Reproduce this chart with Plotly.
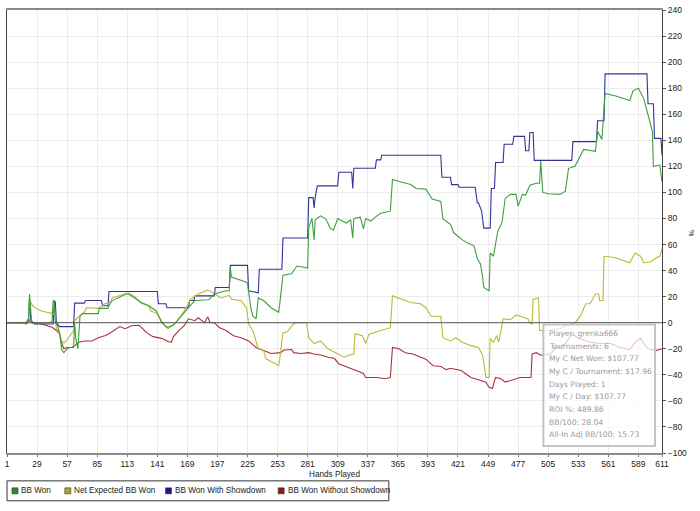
import plotly.graph_objects as go

# ---------------- data (hand number, value) ----------------
x_ticks = [1, 29, 57, 85, 113, 141, 169, 197, 225, 253, 281, 309, 337, 365, 393,
           421, 449, 477, 505, 533, 561, 589, 611]
y_ticks = list(range(-100, 241, 20))

series_names = ["BB Won", "Net Expected BB Won", "BB Won With Showdown", "BB Won Without Showdown"]

bb_won_x = [1, 15, 19, 21, 22, 23, 24, 27, 40, 43, 44, 45, 46, 48, 50, 52, 54, 57, 59, 62, 63, 64, 65, 67,
            69, 71, 86, 87, 95, 96, 99, 112, 114, 120, 126, 133, 140, 145, 150, 156, 161, 170, 176, 189, 194,
            205, 208, 209, 210, 224, 225, 226, 228, 230, 233, 235, 240, 247, 254, 255, 258, 266, 271, 281,
            282, 285, 287, 288, 293, 298, 302, 305, 309, 317, 321, 323, 324, 330, 333, 335, 340, 344, 349,
            358, 360, 368, 377, 382, 391, 397, 405, 407, 414, 417, 426, 433, 436, 439, 442, 444, 445, 450,
            451, 454, 458, 462, 465, 470, 475, 477, 481, 484, 488, 494, 497, 498, 500, 505, 516, 521, 524,
            530, 535, 538, 549, 551, 555, 558, 568, 581, 584, 589, 594, 596, 602, 603, 609, 611]
bb_won_y = [0, 0, -1, 2, 22, 10, 0, -1, 0, 1, 17, 17, 0, -2, -8, -21, -23, -20, -19, -19, -19, 0, -12, -20,
            5, 7, 7, 11, 11, 13, 17, 22, 22, 19, 15.5, 13, 9, 0, -3.5, -2, 3, 11.5, 17, 17.6, 22,
            24.5, 24.5, 42, 35, 31, 30, 23, 11.5, 5, 3, 19, 17, 11.5, 8, 14.5, 36.5, 37.5, 43.5, 42,
            73, 80, 63.5, 79, 82, 79.5, 72.6, 71, 80, 76.5, 79, 65, 80, 81, 72, 80, 78, 81, 84,
            85.6, 110, 108, 106, 103, 102.5, 95, 93, 79.6, 75.5, 69, 63, 60, 59, 49, 45, 35, 27, 24.5,
            53.5, 51, 70, 77, 95.5, 98.5, 98.5, 89.5, 98.5, 98, 105.5, 107, 107, 124, 100, 99, 98.5, 101,
            118.5, 120, 127.7, 133, 131.5, 147, 140.7, 176, 174, 170.5, 178, 180, 172, 166, 147, 120, 121, 108]

net_exp_x = [1, 21, 22, 24, 27, 33, 38, 44, 46, 47, 49, 52, 54, 57, 63, 64, 67, 73, 75, 86, 92, 96, 99,
             112, 114, 120, 126, 133, 135, 141, 145, 148, 151, 158, 166, 172, 179, 188, 193, 200, 208, 210,
             219, 224, 226, 230, 235, 240, 242, 249, 254, 255, 258, 262, 268, 272, 280, 282, 287, 293, 300,
             307, 315, 321, 324, 325, 332, 335, 338, 349, 358, 360, 368, 377, 386, 391, 396, 405, 407, 414,
             419, 425, 433, 440, 444, 447, 450, 451, 454, 457, 459, 463, 470, 475, 479, 486, 489, 490, 491,
             496, 497, 507, 516, 521, 530, 535, 540, 544, 549, 552, 553, 556, 557, 567, 581, 586, 591, 594,
             600, 606, 609, 611]
net_exp_y = [0, 0, 18, 14, 11.5, 9, 8, 7, 5, -4.6, -6, -14, -15.5, -13, -6, 1.5, 4, 8, 11.5, 11, 14.5, 15, 19,
             22, 23, 20, 15, 13, 9, 7, 2, -2.5, -4.6, 0, 9, 18, 22, 25, 23, 19, 21, 18,
             17, 11.5, -1, -6, -20, -21.4, -27.5, -30.5, -33, -28, -7.6, -7, -0.7, 0, 0, -11.5, -16, -14, -20,
             -23, -26.5, -24.5, -24, -8.5, -10, -16, -9, -6, -4, 20.6, 18, 15.5, 14.5, 11.5, 5, 5, -11.5, -14,
             -11.5, -15, -17.6, -19, -25, -42, -42, -12, -15, -10, -15, 3, 2.3, 6, 5, 3, -1, -1, 18,
             19, -6, -5.6, -4.6, -2.3, 0, 5, 14.5, 14.5, 22, 22, 17, 17, 51, 50, 46, 53.5, 51, 46,
             46.6, 50, 51, 56.6]

with_sd_x = [1, 19, 21, 22, 23, 25, 27, 44, 45, 46, 47, 50, 63, 64, 73, 74, 89, 90, 95, 96, 141, 142, 149,
             150, 170, 171, 175, 176, 194, 195, 208, 209, 225, 226, 235, 236, 257, 258, 281, 282, 286, 287,
             288, 290, 309, 310, 322, 323, 324, 344, 345, 349, 350, 405, 406, 414, 415, 421, 422, 437, 439,
             440, 443, 445, 451, 452, 455, 456, 463, 464, 472, 473, 483, 484, 487, 488, 491, 492, 527, 528,
             550, 551, 557, 558, 597, 598, 603, 604, 610, 611]
with_sd_y = [0, 0, 3, 18, 3, 0, -1, -1, 16, 16, 0, -3, -3, 15, 15, 17, 17, 13, 13, 24, 24, 14.5, 14.5,
             11.5, 11.5, 17, 17, 20.6, 20.6, 27, 27, 44, 44, 24.5, 23, 41, 41, 65, 65, 96, 96, 88,
             96, 105, 105, 115.5, 115.5, 103, 118.5, 118.5, 125, 125, 128.5, 128.5, 111.6, 111.6, 106, 106, 104, 104, 92,
             92, 85.6, 72.6, 72.6, 103, 103, 123, 123, 137, 137, 143, 143, 132, 132, 146, 146, 124.6, 124.6, 139,
             139, 155, 155, 191, 191, 168, 168, 141.5, 141.5, 129]

without_sd_x = [1, 20, 22, 24, 29, 38, 43, 47, 50, 52, 54, 57, 61, 64, 68, 73, 80, 86, 92, 96, 101, 106, 111,
                117, 124, 126, 131, 137, 145, 151, 154, 156, 161, 166, 170, 176, 179, 185, 188, 190, 194, 199,
                205, 212, 219, 226, 233, 240, 247, 256, 259, 266, 268, 275, 282, 287, 294, 300, 306, 310, 317,
                323, 326, 333, 335, 345, 354, 358, 360, 366, 372, 379, 386, 391, 398, 405, 410, 414, 424, 428,
                433, 437, 442, 447, 450, 453, 456, 461, 465, 470, 475, 479, 489, 490, 494, 498, 507, 512, 516,
                521, 526, 528, 532, 540, 544, 554, 563, 572, 581, 586, 591, 594, 598, 605, 611]
without_sd_y = [0, 0, 2, 0, 0, -2, -3.5, -6, -8.4, -16, -20, -19, -19, -17.6, -15, -14, -14, -11.5, -10, -8.4, -6, -3, -4.6,
                -2.3, -2, -3.8, -7.6, -10.7, -12, -14.5, -15, -10.7, -6, -2.3, 3, 1.5, 3.8, 0, 4.6, 0, 0, -3.8,
                -6, -10, -11.5, -14, -19, -21.4, -23.6, -23, -21, -20.6, -23, -23.6, -23, -24, -25, -26.5, -27.5, -31.6, -33.6,
                -35.4, -36.7, -39, -42, -42, -43, -42, -19, -20, -23, -24, -26.5, -28, -33, -33.6, -36, -35, -36.7, -39,
                -42, -43, -44.4, -45.6, -49.6, -50.5, -42, -43, -45.6, -44.4, -43, -42, -42, -24, -23, -25, -24, -19, -18.4,
                -16, -10, -8.5, -11.5, -14, -15, -16, -16, -19, -20.6, -15, -12, -16, -20, -21.4, -20]

stats_lines = ["Player: grenka666", "Tournaments: 6", "My C Net Won: $107.77",
               "My C / Tournament: $17.96", "Days Played: 1", "My C / Day: $107.77",
               "ROI %: 489.86", "BB/100: 28.04", "All-In Adj BB/100: 15.73"]

# ---------------- styling ----------------
W, H = 700, 511
ML, MR, MT, MB = 5, 38, 8, 58
line_colors = ["#3f9f3f", "#b9b93a", "#33339a", "#a8323c"]
legend_colors = ["#2b8a2b", "#a6a62e", "#1a1a85", "#8c1c1c"]
FONT = "Liberation Sans, Arial, sans-serif"


def px(x):
    return (x - ML) / (W - ML - MR)


def py(y):
    return (H - MB - y) / (H - MT - MB)


fig = go.Figure()
data = [(bb_won_x, bb_won_y), (net_exp_x, net_exp_y), (with_sd_x, with_sd_y), (without_sd_x, without_sd_y)]
for idx in [2, 3, 1, 0]:
    xs, ys = data[idx]
    fig.add_trace(go.Scatter(x=xs, y=ys, mode="lines", name=series_names[idx],
                             line=dict(color=line_colors[idx], width=1.1), showlegend=False,
                             hoverinfo="skip"))

shapes = []
annotations = []

# zero line
shapes.append(dict(type="line", xref="paper", yref="y", x0=0, x1=1, y0=0, y1=0,
                   line=dict(color="#555555", width=1), layer="above"))

# stats box
shapes.append(dict(type="rect", xref="paper", yref="paper", x0=px(543), x1=px(655), y0=py(446), y1=py(324),
                   fillcolor="rgba(255,255,255,0.72)", line=dict(color="#c4c4c4", width=2), layer="above"))
for i, t in enumerate(stats_lines):
    annotations.append(dict(text=t, xref="paper", yref="paper", x=px(547), y=py(333 + i * 12.7),
                            xanchor="left", yanchor="middle", showarrow=False,
                            font=dict(family="DejaVu Sans, sans-serif", size=7.6, color="#9a9a9a")))

# legend box (drawn manually)
shapes.append(dict(type="rect", xref="paper", yref="paper", x0=px(5), x1=px(388), y0=py(501), y1=py(481),
                   fillcolor="white", line=dict(color="#333333", width=1)))
leg_sq_x = [10, 63, 164, 277]
for i, sx in enumerate(leg_sq_x):
    shapes.append(dict(type="rect", xref="paper", yref="paper", x0=px(sx), x1=px(sx + 6),
                       y0=py(494), y1=py(488), fillcolor=legend_colors[i],
                       line=dict(color="#333333", width=0.6)))
    annotations.append(dict(text=series_names[i], xref="paper", yref="paper", x=px(sx + 7.5), y=py(491),
                            xanchor="left", yanchor="middle", showarrow=False,
                            font=dict(family=FONT, size=8.2, color="#222222")))

# axis titles
annotations.append(dict(text="Hands Played", xref="paper", yref="paper", x=px(333), y=py(474.5),
                        xanchor="center", yanchor="middle", showarrow=False,
                        font=dict(family=FONT, size=8.2, color="#222222")))
annotations.append(dict(text="%", xref="paper", yref="paper", x=px(691), y=py(232),
                        xanchor="center", yanchor="middle", showarrow=False, textangle=90,
                        font=dict(family=FONT, size=7, color="#222222")))

fig.update_layout(
    width=W, height=H,
    margin=dict(l=ML, r=MR, t=MT, b=MB, pad=0),
    paper_bgcolor="white", plot_bgcolor="white",
    showlegend=False,
    shapes=shapes, annotations=annotations,
    font=dict(family=FONT, size=8.5, color="#222222"),
    xaxis=dict(range=[1, 611], tickmode="array", tickvals=x_ticks, ticktext=[str(v) for v in x_ticks],
               showgrid=True, gridcolor="#ececec", gridwidth=1, zeroline=False,
               showline=True, linecolor="#8a8a8a", linewidth=2, mirror=True,
               ticks="outside", ticklen=2, tickcolor="#777777",
               tickfont=dict(family=FONT, size=8.5, color="#222222")),
    yaxis=dict(range=[-100, 240], tickmode="array", tickvals=y_ticks, side="right",
               showgrid=True, gridcolor="#ececec", gridwidth=1, zeroline=False,
               showline=True, linecolor="#444444", linewidth=1, mirror=True,
               ticks="outside", ticklen=3, tickcolor="#555555",
               tickfont=dict(family=FONT, size=8.5, color="#222222")),
)

fig.write_html("out.html")
